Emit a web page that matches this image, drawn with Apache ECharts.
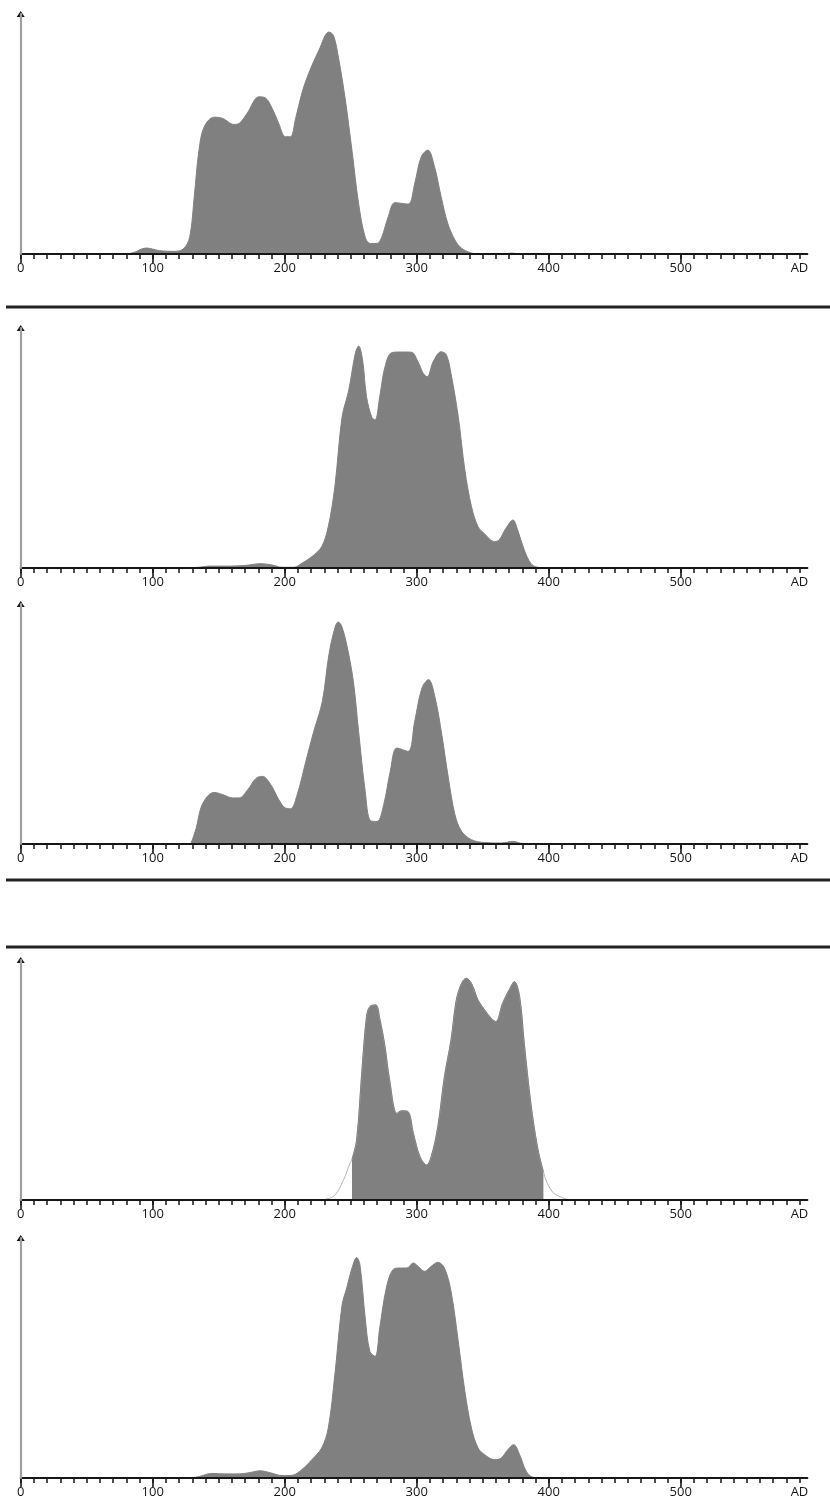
<!DOCTYPE html>
<html>
<head>
<meta charset="utf-8">
<script src="https://cdn.jsdelivr.net/npm/echarts@6/dist/echarts.min.js"></script>
<style>
html,body{margin:0;padding:0;background:#ffffff;}
#chart{width:830px;height:1506px;}
</style>
</head>
<body>
<div id="chart"></div>
<script>
// ---------- data (x in years AD, y = relative probability, 100 = top of axis) ----------
const p1X = [0, 75, 85, 95, 105, 115, 123, 128, 131.5, 135, 139, 146.5, 153, 161.5, 165.5, 171.5, 180.5, 185.5, 190.5, 195.5, 200.5, 204.5, 208, 213, 218, 226, 233.5, 237, 241, 246, 251, 256, 261, 265, 270, 273.5, 278.5, 283.5, 293.5, 298.5, 303.5, 308.5, 313.5, 318.5, 323.5, 329, 334, 341, 346, 365, 372, 378, 596];
const p1Y = [0, 0, 0.5, 2.5, 1.4, 1.1, 2, 7, 24, 43, 53, 57, 56.5, 54, 54.4, 58.6, 65.5, 65, 60.7, 54.4, 48.9, 48.9, 55.8, 67, 75, 85, 92.5, 91, 81, 64, 43, 21, 7, 4.4, 4.4, 7, 15.6, 21.4, 20.8, 29.4, 40.6, 43.3, 36.4, 23.9, 12.8, 5.8, 2.4, 0.5, 0, 0, 0.4, 0, 0];

const p2X = [0, 120, 135, 142.5, 158, 170.5, 181.5, 190.5, 198, 207, 213, 220.5, 228, 233, 238, 243.5, 248.5, 253.5, 256, 259, 262, 266, 268.5, 272, 276, 281, 288, 296, 301, 305, 308, 312.5, 318.5, 322.5, 326, 331.5, 336.5, 341.5, 346.5, 351.5, 359, 362.5, 367.5, 373, 376.5, 381.5, 386.5, 391.5, 399, 596];
const p2Y = [0, 0, 0.3, 0.8, 0.8, 1.1, 1.8, 1.25, 0.3, 0.3, 2, 4.7, 8.9, 17.2, 33.9, 63, 74, 89.4, 92.5, 86.7, 71.4, 62.8, 61.7, 71.4, 83.9, 89.7, 90, 89.9, 86, 81, 79.7, 86, 90.1, 88.8, 81, 63, 40.8, 25.6, 17.2, 14.2, 11, 11.7, 16.5, 20, 15.8, 7.5, 1.9, 0.3, 0, 0];

const p3X = [0, 128, 129, 133, 136.5, 141.5, 146.5, 153, 160.5, 165.5, 172, 178, 183, 189.5, 195.5, 200.5, 204.5, 209.5, 216, 222, 228.5, 233.5, 238, 240.5, 243, 247, 252, 256, 261, 265, 270, 275, 280, 285, 293.5, 298.5, 304, 309, 314, 319, 324, 329, 334, 341.5, 351.5, 364, 373, 379, 387, 596];
const p3Y = [0, 0, 0.3, 6.7, 15, 19.9, 21.5, 20.6, 19.2, 19.2, 22.6, 27.2, 28.2, 24.7, 18.5, 15, 14.7, 20.6, 34.4, 46.9, 59.4, 78.9, 90, 92.5, 91, 83, 67.8, 46.9, 21.9, 9.7, 9.4, 16.4, 30.3, 40, 38.6, 51.1, 65, 68.5, 60.8, 45.6, 27.5, 12.2, 5.3, 1.8, 0.6, 0.4, 1.1, 0.3, 0, 0];

const p4X = [0, 226, 231, 238, 244.5, 249.5, 251, 254.5, 258.5, 262, 264.5, 269, 272, 276, 279.5, 285, 288.5, 293.5, 297.5, 302.5, 307.5, 311, 316, 321, 326, 330, 334, 337.5, 341.5, 346.5, 351.5, 356.5, 360, 365, 370, 374, 378, 381.5, 386.5, 391.5, 396, 399, 404, 411.5, 416, 596];
const p4Y = [0, 0, 0.3, 2, 8.3, 15.3, 17, 25, 54, 76.4, 80.6, 81.3, 75.7, 63.9, 50, 36.1, 37.2, 36.8, 27.8, 18.1, 14.6, 18.1, 30.6, 51.4, 66.7, 83.3, 90.3, 92.4, 90.3, 83.3, 79.2, 75.7, 74.3, 81.9, 87.5, 91, 84.7, 65.3, 40.3, 22.2, 11.8, 6.9, 2.8, 0.7, 0, 0];
const p4FillRange = [251, 396];

const p5X = [0, 120, 132.5, 145, 155, 165.5, 173, 181.5, 189, 198, 205.5, 213, 220.5, 228, 233, 238, 243.5, 247, 251, 254.5, 257, 261, 264.5, 268.5, 272, 277, 282, 287.5, 292.5, 297.5, 301, 306, 311, 316, 321, 326, 331.5, 336.5, 341.5, 346.5, 351.5, 359, 364, 369, 373.5, 378, 383, 388, 394, 596];
const p5Y = [0, 0, 0.3, 1.9, 1.7, 1.7, 2.2, 3, 2.2, 1, 1.1, 3.5, 7.6, 12.5, 20.8, 43, 72.2, 79.2, 87.5, 91.9, 88.9, 66.7, 52.8, 50.7, 62.5, 79.2, 86.8, 87.5, 87.5, 89.6, 88.2, 86.1, 88.2, 89.9, 87.5, 77.8, 56.9, 36.1, 20.8, 12.5, 9.7, 7.6, 8.3, 11.8, 13.9, 9.7, 2.8, 0.3, 0, 0];

// ---------- axis ticks / labels ----------
const xMin = 0, xMax = 596, yMin = 0, yMax = 100;
const labelValues = [0, 100, 200, 300, 400, 500, 590];
const tickLabels  = ['0', '100', '200', '300', '400', '500', 'AD'];
const majorTicks  = [0, 100, 200, 300, 400, 500];
const minorStep = 10, minorLast = 590;
const minorTicks = [];
for (let v = 0; v <= minorLast; v += minorStep) minorTicks.push(v);

// ---------- layout ----------
const panelTops = [14, 328, 604, 960, 1238];
const plotH = 240;
const separatorYs = [307, 880, 947];

const panels = [
  {x: p1X, y: p1Y},
  {x: p2X, y: p2Y},
  {x: p3X, y: p3Y},
  {x: p4X, y: p4Y, fill: p4FillRange},
  {x: p5X, y: p5Y}
];

const INK = '#161616';
const FILL = '#808080';
const grids = [], xAxes = [], yAxes = [], series = [];

panels.forEach((p, i) => {
  grids.push({left: 20.7, right: 22.6, top: panelTops[i], height: plotH, containLabel: false, outerBoundsMode: 'none'});
  // minor ticks + labels
  xAxes.push({
    type: 'value', gridIndex: i, min: xMin, max: xMax, position: 'bottom', z: 3,
    axisLine: {show: true, onZero: false, lineStyle: {color: INK, width: 2}},
    axisTick: {show: true, length: 5, lineStyle: {color: INK, width: 1.5}, customValues: minorTicks},
    axisLabel: {show: true, customValues: labelValues, margin: 8, color: INK, fontSize: 13,
      fontFamily: 'Open Sans, Noto Sans, sans-serif',
      formatter: v => { const k = labelValues.indexOf(v); return k >= 0 ? tickLabels[k] : ''; }},
    splitLine: {show: false}
  });
  // major (long) ticks
  xAxes.push({
    type: 'value', gridIndex: i, min: xMin, max: xMax, position: 'bottom', z: 3,
    axisLine: {show: false, onZero: false},
    axisTick: {show: true, length: 9, lineStyle: {color: INK, width: 1.6}, customValues: majorTicks},
    axisLabel: {show: false},
    splitLine: {show: false}
  });
  // black arrow head at top of vertical axis (its line is hidden under the grey one)
  yAxes.push({
    type: 'value', gridIndex: i, min: yMin, max: yMax, position: 'left', z: 1,
    axisLine: {show: true, onZero: false, symbol: ['none', 'triangle'], symbolSize: [8, 6],
      lineStyle: {color: '#111111', width: 0.6}},
    axisTick: {show: false}, axisLabel: {show: false}, splitLine: {show: false}
  });
  // grey vertical axis
  yAxes.push({
    type: 'value', gridIndex: i, min: yMin, max: yMax, position: 'left', z: 4,
    axisLine: {show: true, onZero: false, lineStyle: {color: '#a0a0a0', width: 2.2}},
    axisTick: {show: false}, axisLabel: {show: false}, splitLine: {show: false}
  });

  const pts = p.x.map((xv, k) => [xv, p.y[k]]);
  if (p.fill) {
    series.push({
      type: 'line', xAxisIndex: 2 * i, yAxisIndex: 2 * i, data: pts, smooth: 0.35,
      symbol: 'none', showSymbol: false, z: 2,
      lineStyle: {color: '#b4b4b4', width: 1}
    });
    const fillPts = pts.filter(d => d[0] >= p.fill[0] && d[0] <= p.fill[1]);
    series.push({
      type: 'line', xAxisIndex: 2 * i, yAxisIndex: 2 * i, data: fillPts, smooth: 0.35,
      symbol: 'none', showSymbol: false, z: 2,
      lineStyle: {color: FILL, width: 1},
      areaStyle: {color: FILL, opacity: 1}
    });
  } else {
    series.push({
      type: 'line', xAxisIndex: 2 * i, yAxisIndex: 2 * i, data: pts, smooth: 0.35,
      symbol: 'none', showSymbol: false, z: 2,
      lineStyle: {color: FILL, width: 1},
      areaStyle: {color: FILL, opacity: 1}
    });
  }
});

const chart = echarts.init(document.getElementById('chart'), null, {renderer: 'canvas'});
chart.setOption({
  animation: false,
  backgroundColor: '#ffffff',
  grid: grids,
  xAxis: xAxes,
  yAxis: yAxes,
  series: series,
  graphic: separatorYs.map(y => ({
    type: 'line', z: 10,
    shape: {x1: 6, y1: y, x2: 830, y2: y},
    style: {stroke: '#222222', lineWidth: 3}
  }))
});
</script>
</body>
</html>
